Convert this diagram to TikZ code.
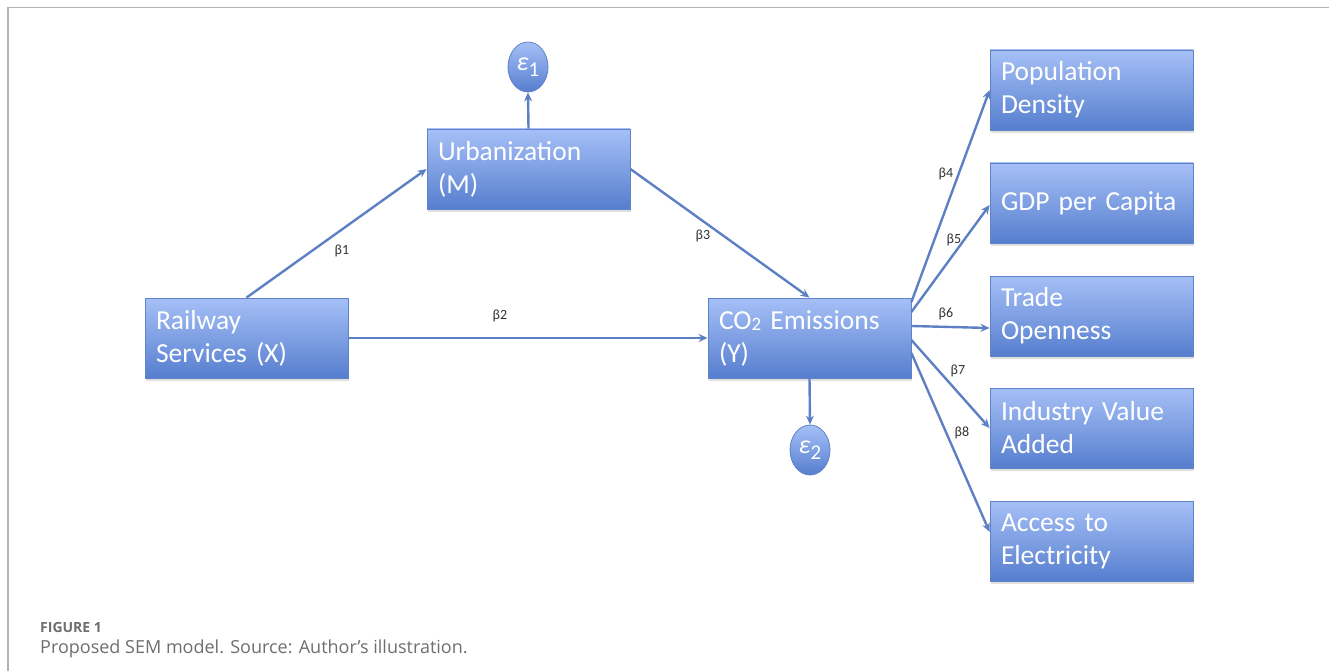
\documentclass[tikz,border=0pt]{standalone}
\usepackage{fontspec}
\setmainfont[WordSpace=0.8]{Carlito}
\newfontfamily\capfont{Open Sans}
\usetikzlibrary{arrows.meta,shadows,shapes.geometric}
\definecolor{boxtop}{RGB}{166,192,247}
\definecolor{boxbot}{RGB}{86,126,206}
\definecolor{boxline}{RGB}{96,130,200}
\definecolor{arr}{RGB}{93,128,196}
\definecolor{framec}{RGB}{178,178,186}
\definecolor{capc}{RGB}{110,110,110}
\newcommand{\errlab}[1]{\textit{ε}\raisebox{-6pt}{\fontsize{21}{22}\selectfont #1}}
\tikzset{
  varbox/.style={rectangle, draw=boxline, line width=0.8pt, top color=boxtop, bottom color=boxbot,
    minimum width=203pt, minimum height=80pt, text width=181pt, inner xsep=11pt, inner ysep=0pt,
    align=left, text=white, font=\fontsize{27.5}{33}\selectfont,
    drop shadow={shadow xshift=1pt, shadow yshift=-3pt, opacity=0.25}},
  errnode/.style={ellipse, draw=boxline, line width=0.8pt, top color=boxtop, bottom color=boxbot,
    minimum width=40pt, minimum height=50pt, inner sep=0pt, text=white, font=\fontsize{26}{28}\selectfont},
  conn/.style={draw=arr, line width=2.4pt, -{Stealth[length=9pt,width=8pt]}},
  blab/.style={font=\fontsize{14}{16}\selectfont, text=black!80},
}
\begin{document}
\begin{tikzpicture}[x=1pt,y=1pt]
\useasboundingbox (0,0) rectangle (1329,-671);
\draw[framec, line width=1.8pt] (8,-671) -- (8,-7.5) -- (1329,-7.5);

\node[varbox] (rail) at (246.5,-338) {Railway\\Services (X)};
\node[varbox] (urb) at (528.5,-169) {Urbanization\\(M)};
\node[varbox] (co2) at (809.5,-338) {CO\raisebox{-0.05em}{\fontsize{19}{20}\selectfont 2} Emissions\\(Y)};
\node[varbox] (pd) at (1091.5,-90) {Population\\Density};
\node[varbox] (gdp) at (1091.5,-203) {GDP per Capita};
\node[varbox] (tr) at (1091.5,-316) {Trade\\Openness};
\node[varbox] (iva) at (1091.5,-428) {Industry Value\\Added};
\node[varbox] (acc) at (1091.5,-541) {Access to\\Electricity};

\node[errnode] (e1) at (528,-67) {\errlab{1}};
\node[errnode] (e2) at (810,-450) {\errlab{2}};

\draw[conn] (rail.north) -- (urb.west);
\draw[conn] (urb.east) -- (co2.north);
\draw[conn] (rail.east) -- (co2.west);
\draw[conn] (urb.north) -- (e1.south);
\draw[conn] (co2.south) -- (e2.north);
\draw[conn] ([yshift=36pt]co2.east) -- (pd.west);
\draw[conn] ([yshift=26pt]co2.east) -- ([yshift=-2pt]gdp.west);
\draw[conn] ([yshift=12pt]co2.east) -- ([yshift=-12pt]tr.west);
\draw[conn] ([yshift=-2pt]co2.east) -- (iva.west);
\draw[conn] ([yshift=-15pt]co2.east) -- ([yshift=9pt]acc.west);

\node[blab] (b1) at (342,-251) {β1};
\node[blab] (b2) at (500,-316) {β2};
\node[blab] (b3) at (703,-236) {β3};
\node[blab] (b4) at (946,-174) {β4};
\node[blab] (b5) at (954,-240) {β5};
\node[blab] (b6) at (946,-314) {β6};
\node[blab] (b7) at (958,-371) {β7};
\node[blab] (b8) at (962,-433) {β8};

\node[anchor=base west, inner sep=0pt, text=capc, font=\capfont\bfseries\fontsize{14}{16}\selectfont] (figlab) at (40,-632) {FIGURE 1};
\node[anchor=base west, inner sep=0pt, text=capc, font=\capfont\fontsize{18}{20}\selectfont] (caption) at (40,-653) {Proposed SEM model. Source: Author’s illustration.};
\end{tikzpicture}
\end{document}
